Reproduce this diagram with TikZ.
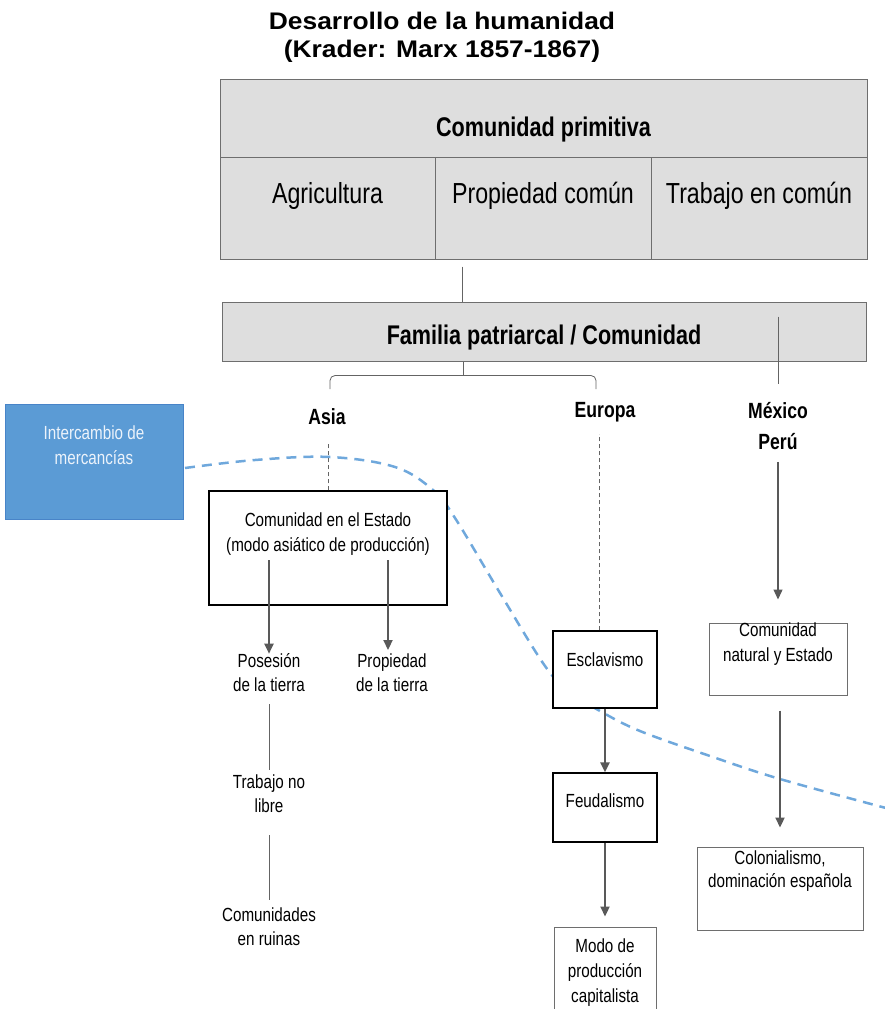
\documentclass[tikz,border=0pt]{standalone}
\usepackage{fontspec}
\setmainfont{Liberation Sans}[FakeStretch=0.8]
\newfontfamily\titlefont{Liberation Sans}[FakeStretch=1.1]
\usetikzlibrary{arrows.meta}

\definecolor{cellgray}{RGB}{222,222,222}
\definecolor{bordergray}{RGB}{110,110,110}
\definecolor{linegray}{RGB}{100,100,100}
\definecolor{arrowgray}{RGB}{89,89,89}
\definecolor{bluefill}{RGB}{91,155,213}
\definecolor{blueborder}{RGB}{72,132,200}
\definecolor{bluetext}{RGB}{236,243,251}
\definecolor{bluedash}{RGB}{111,168,220}

\tikzstyle{mycell} = [draw=bordergray, fill=cellgray, line width=1pt,
    rectangle, inner sep=0pt]
\tikzstyle{mybox} = [draw=black, fill=white, line width=1.3pt,
    rectangle, inner sep=0pt]
\tikzstyle{mygraybox} = [draw=bordergray, fill=white, line width=1pt,
    rectangle, inner sep=0pt]
\tikzstyle{mybluebox} = [draw=blueborder, fill=bluefill, line width=1pt,
    rectangle, inner sep=0pt, text=bluetext]
\tikzstyle{mylabel} = [align=center, inner sep=0pt,
    font=\fontsize{19}{24}\selectfont]
\tikzstyle{myregion} = [align=center, inner sep=0pt,
    font=\bfseries\fontsize{22}{31}\selectfont]
\tikzstyle{myline} = [draw=linegray, line width=0.8pt]
\tikzstyle{mydash} = [draw=linegray, line width=0.8pt, dash pattern=on 4pt off 3pt]
\tikzstyle{myarrow} = [draw=arrowgray, line width=2.2pt,
    -{Triangle[length=10pt,width=9pt]}]
\tikzstyle{mythin} = [draw=arrowgray, line width=1.3pt,
    -{Triangle[length=10pt,width=9pt]}]
\tikzstyle{mycurve} = [draw=bluedash, line width=2.5pt, dash pattern=on 10pt off 7pt]

% text at the top of a box: width, height, top space, text
\newcommand{\mytext}[4]{\begin{minipage}[c][#2][t]{#1}\centering\vspace*{#3}#4\end{minipage}}

\begin{document}
\begin{tikzpicture}[x=1pt,y=-1pt]
\useasboundingbox (0,0) rectangle (884,1009);

\node [align=center, inner sep=0pt, font=\titlefont\bfseries\fontsize{24}{28}\selectfont]
    (title) at (442,37) {Desarrollo de la humanidad\\(Krader: Marx 1857-1867)};

% line of exchange
\draw[mycurve] plot[smooth, tension=0.6] coordinates {(185,468) (255,460) (330,457)
    (395,467) (433,490) (455,518) (500,593) (545,666) (570,692) (600,711)
    (640,731) (710,756) (780,779) (886,808)};

% table
\node [mycell, font=\bfseries\fontsize{27}{32}\selectfont] (prim) at (543.5,118)
    {\mytext{647pt}{78pt}{38pt}{Comunidad primitiva}};
\node [mycell, font=\fontsize{29}{34}\selectfont] (agri) at (327.5,208)
    {\mytext{215pt}{102pt}{25pt}{Agricultura}};
\node [mycell, font=\fontsize{29}{34}\selectfont] (prop) at (543,208)
    {\mytext{216pt}{102pt}{25pt}{Propiedad común}};
\node [mycell, font=\fontsize{29}{34}\selectfont] (trab) at (759,208)
    {\mytext{216pt}{102pt}{25pt}{Trabajo en común}};

\node [mycell, font=\bfseries\fontsize{27}{32}\selectfont] (fam) at (544,331.5)
    {\mytext{644pt}{59pt}{23pt}{Familia patriarcal / Comunidad}};

\node [mybluebox, font=\fontsize{19}{25}\selectfont] (merc) at (94,461.5)
    {\mytext{178pt}{115pt}{22pt}{Intercambio de\\mercancías}};

% regions
\node [myregion] (asia) at (327,417) {Asia};
\node [myregion] (eur) at (605,412) {Europa};
\node [myregion] (mex) at (778,426) {México\\Perú};

% Asia
\node [mybox, font=\fontsize{19}{25}\selectfont] (est) at (328,548)
    {\mytext{238pt}{114pt}{22pt}{Comunidad en el Estado\\(modo asiático de producción)}};
\node [mylabel] (pos) at (269,673) {Posesión\\de la tierra};
\node [mylabel] (propt) at (392,673) {Propiedad\\de la tierra};
\node [mylabel] (tnl) at (269,794) {Trabajo no\\libre};
\node [mylabel] (ruin) at (269,927) {Comunidades\\en ruinas};

% Europa
\node [mybox, font=\fontsize{19}{25}\selectfont] (esc) at (605,669.5)
    {\mytext{104pt}{77pt}{22pt}{Esclavismo}};
\node [mybox, font=\fontsize{19}{25}\selectfont] (feu) at (605,807.5)
    {\mytext{104pt}{69pt}{21pt}{Feudalismo}};
\node [mygraybox, font=\fontsize{19}{25}\selectfont] (modo) at (605,972)
    {\mytext{102pt}{90pt}{12pt}{Modo de\\producción\\capitalista}};

% Mexico, Peru
\node [mygraybox, font=\fontsize{19}{25}\selectfont] (nat) at (778,659)
    {\mytext{138pt}{72pt}{0pt}{Comunidad\\natural y Estado}};
\node [mygraybox, font=\fontsize{19}{23}\selectfont] (col) at (780,888.5)
    {\mytext{166pt}{83pt}{4pt}{Colonialismo,\\dominación española}};

% connectors
\draw[myline] ([xshift=28pt,yshift=-7pt]prop.south west) -- ([xshift=28pt]prop.south west |- fam.north);
\draw[myline] ([xshift=-81pt]fam.south) -- ++(0,14) coordinate (fork);
\coordinate (asiaend) at (330,389);
\coordinate (eurend) at (596,389);
\draw[myline, rounded corners=5pt] (asiaend) |- (fork) -| (eurend);
\draw[myline] (fam.north -| mex) ++(0,15) -- ([yshift=18pt]mex.north);

\draw[mydash] (est.north) -- ++(0,-48);
\draw[mydash] ([xshift=-6pt]esc.north) -- ++(0,-196);
\draw[mythin] ([yshift=-12pt]mex.south) -- ([yshift=23pt]nat.north);

\draw[myarrow] ([xshift=-59pt,yshift=-12pt]est.center) -- (pos.north);
\draw[myarrow] ([xshift=60pt,yshift=-12pt]est.center) -- ++(0,90);
\draw[myline] ([yshift=-12pt]pos.south) -- ([yshift=5pt]tnl.north);
\draw[myline] ([yshift=-22pt]tnl.south) -- ([yshift=8pt]ruin.north);

\draw[myarrow] (esc.south) -- (feu.north);
\draw[myarrow] (feu.south) -- ([yshift=10pt]modo.north);
\draw[myarrow] ([xshift=2pt,yshift=-15pt]nat.south) -- ([yshift=19pt]col.north);
\end{tikzpicture}
\end{document}
